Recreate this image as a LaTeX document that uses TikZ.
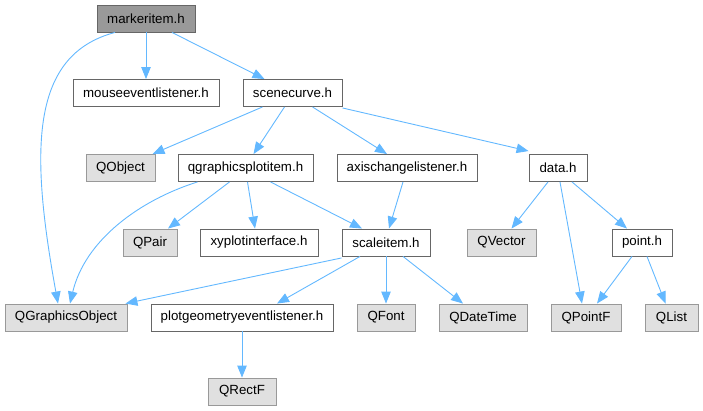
\documentclass[tikz,border=0pt]{standalone}
\usepackage{fontspec}
\setmainfont{Liberation Sans}
\usetikzlibrary{arrows.meta}
\definecolor{edgeblue}{HTML}{63B8FF}
\definecolor{boxdark}{HTML}{666666}
\definecolor{boxgray}{HTML}{999999}
\definecolor{fillgray}{HTML}{E0E0E0}
\definecolor{fillmark}{HTML}{999999}
\tikzset{
  base/.style={rectangle, inner sep=0pt, minimum height=27pt, line width=0.9pt,
    font=\fontsize{13.3}{16}\selectfont, text=black},
  filebox/.style={base, draw=boxdark, fill=white},
  extbox/.style={base, draw=boxgray, fill=fillgray},
  rootbox/.style={base, draw=boxdark, fill=fillmark},
  edge/.style={draw=edgeblue, line width=0.9pt, -{Triangle[length=12pt,width=9.5pt]}}
}
\begin{document}
\begin{tikzpicture}[x=1pt,y=-1pt]
\useasboundingbox (0,0) rectangle (703,411);
\node[rootbox, minimum width=98pt] (mk) at (146,18.5) {markeritem.h};
\node[filebox, minimum width=146pt] (mel) at (146,93) {mouseeventlistener.h};
\node[filebox, minimum width=99pt] (sc) at (292.5,93) {scenecurve.h};
\node[extbox, minimum width=69pt] (qobj) at (120.5,168) {QObject};
\node[filebox, minimum width=135pt] (qgpi) at (245.5,168) {qgraphicsplotitem.h};
\node[filebox, minimum width=140pt] (acl) at (407,168) {axischangelistener.h};
\node[filebox, minimum width=58pt] (data) at (558,168) {data.h};
\node[extbox, minimum width=54pt] (qpair) at (150,242.5) {QPair};
\node[filebox, minimum width=118pt] (xyp) at (259,242.5) {xyplotinterface.h};
\node[filebox, minimum width=88pt] (si) at (386,242.5) {scaleitem.h};
\node[extbox, minimum width=69pt] (qvec) at (501.5,242.5) {QVector};
\node[filebox, minimum width=60pt] (pt) at (642,242.5) {point.h};
\node[extbox, minimum width=122pt] (qgo) at (66,317.5) {QGraphicsObject};
\node[filebox, minimum width=182pt] (pgel) at (242,317.5) {plotgeometryeventlistener.h};
\node[extbox, minimum width=58pt] (qfont) at (386,317.5) {QFont};
\node[extbox, minimum width=88pt] (qdt) at (483,317.5) {QDateTime};
\node[extbox, minimum width=70pt] (qpf) at (586,317.5) {QPointF};
\node[extbox, minimum width=53pt] (qlist) at (671.5,317.5) {QList};
\node[extbox, minimum width=68pt] (qrect) at (242,391.5) {QRectF};

\draw[edge] (mk.south) -- (mel.north);
\draw[edge] ([xshift=26pt]mk.south) -- ([xshift=-28pt]sc.north);
\draw[edge] ([xshift=-31pt]mk.south) .. controls (30,55) and (30,150) .. ([xshift=-8pt]qgo.north);
\draw[edge] ([xshift=-30pt]sc.south) -- ([xshift=32pt]qobj.north);
\draw[edge] ([xshift=-8pt]sc.south) -- ([xshift=8pt]qgpi.north);
\draw[edge] ([xshift=20pt]sc.south) -- ([xshift=-20pt]acl.north);
\draw[edge] ([yshift=-1pt]sc.south east) -- ([yshift=3pt]data.north west);
\draw[edge] ([xshift=-48pt]qgpi.south) .. controls (140,200) and (85,240) .. ([xshift=4pt]qgo.north);
\draw[edge] ([xshift=-16pt]qgpi.south) -- ([xshift=18pt]qpair.north);
\draw[edge] ([xshift=2pt]qgpi.south) -- ([xshift=-4pt]xyp.north);
\draw[edge] ([xshift=25pt]qgpi.south) -- ([xshift=-24pt]si.north);
\draw[edge] ([xshift=-4pt]acl.south) -- ([xshift=3pt]si.north);
\draw[edge] ([xshift=-10pt]data.south) -- ([xshift=10pt]qvec.north);
\draw[edge] ([xshift=2pt]data.south) -- ([xshift=-4pt]qpf.north);
\draw[edge] ([xshift=14pt]data.south) -- ([xshift=-15pt]pt.north);
\draw[edge] ([yshift=-1.5pt]si.south west) -- ([xshift=-2pt]qgo.north east);
\draw[edge] ([xshift=-26pt]si.south) -- ([xshift=35pt]pgel.north);
\draw[edge] (si.south) -- (qfont.north);
\draw[edge] ([xshift=17pt]si.south) -- ([xshift=-20pt]qdt.north);
\draw[edge] ([xshift=-10pt]pt.south) -- ([xshift=11pt]qpf.north);
\draw[edge] ([xshift=5pt]pt.south) -- ([xshift=-6pt]qlist.north);
\draw[edge] (pgel.south) -- (qrect.north);
\end{tikzpicture}
\end{document}
